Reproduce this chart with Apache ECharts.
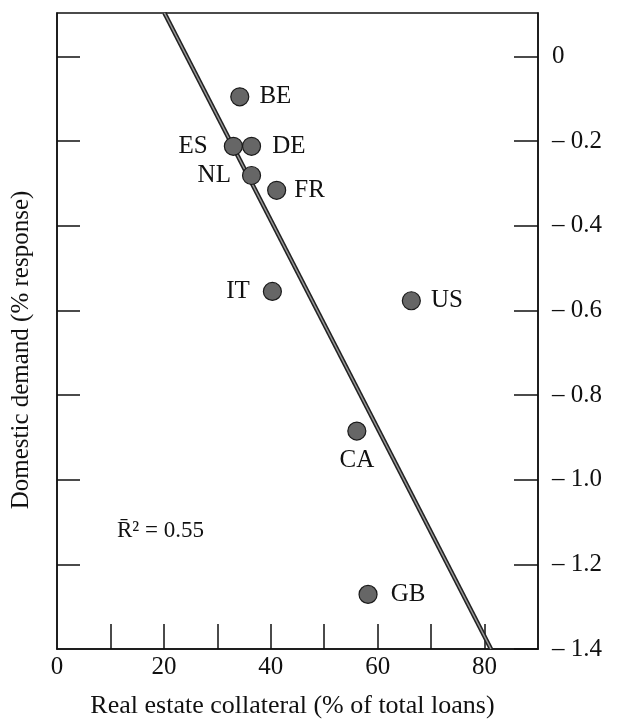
<!DOCTYPE html>
<html>
<head>
<meta charset="utf-8">
<script src="https://cdn.jsdelivr.net/npm/echarts@6/dist/echarts.min.js"></script>
<style>
html,body{margin:0;padding:0;background:#fff;}
#c{width:621px;height:724px;}
</style>
</head>
<body>
<div id="c"></div>
<script>
// ---- data ----
var countries = ['BE', 'ES', 'DE', 'NL', 'FR', 'IT', 'US', 'CA', 'GB'];
var collateral = [34.2, 33.0, 36.4, 36.4, 41.1, 40.3, 66.3, 56.1, 58.2];
var demand = [-0.095, -0.212, -0.212, -0.281, -0.316, -0.555, -0.577, -0.885, -1.271];
var fitX = [20.1, 81.2];
var fitY = [0.103, -1.40];
var xTickLabels = [0, 20, 40, 60, 80];
var yTickLabels = [0, -0.2, -0.4, -0.6, -0.8, -1.0, -1.2, -1.4];
var rSquared = '0.55';

// ---- styles ----
var FONT = "'Liberation Serif', 'DejaVu Serif', serif";
var FS = 25;
var labelPlacement = {
  BE: {position: 'right', distance: 10},
  ES: {position: 'left', distance: 16},
  DE: {position: 'right', distance: 11},
  NL: {position: 'left', distance: 11},
  FR: {position: 'right', distance: 8},
  IT: {position: 'left', distance: 13},
  US: {position: 'right', distance: 10},
  CA: {position: 'bottom', distance: 7},
  GB: {position: 'right', distance: 13}
};

var points = countries.map(function (c, i) {
  var lp = labelPlacement[c];
  return {
    name: c,
    value: [collateral[i], demand[i]],
    label: {position: lp.position, distance: lp.distance}
  };
});
var fitData = fitX.map(function (x, i) { return [x, fitY[i]]; });

function fmtY(v) {
  var r = Math.round(v * 10) / 10;
  if (Math.abs(r) < 1e-9) return '0';
  return '\u2013 ' + Math.abs(r).toFixed(1);
}

var chart = echarts.init(document.getElementById('c'), null, {renderer: 'canvas'});
chart.setOption({
  backgroundColor: '#fff',
  animation: false,
  textStyle: {fontFamily: FONT, color: '#111'},
  grid: {
    left: 57, right: 83, top: 13, bottom: 74,
    show: true, borderColor: '#111', borderWidth: 1.5, backgroundColor: 'transparent'
  },
  xAxis: {
    type: 'value', min: 0, max: 90, interval: 10,
    name: 'Real estate collateral (% of total loans)',
    nameLocation: 'middle', nameGap: 44,
    nameTextStyle: {fontFamily: FONT, fontSize: 26, color: '#111', padding: [0, 10, 0, 0]},
    axisLine: {show: true, onZero: false, lineStyle: {color: '#111', width: 1.5}},
    axisTick: {show: true, inside: true, length: 25, lineStyle: {color: '#111', width: 1.5},
      customValues: [10, 20, 30, 40, 50, 60, 70, 80]},
    axisLabel: {show: true, margin: 6, fontFamily: FONT, fontSize: FS, color: '#111',
      customValues: xTickLabels, formatter: function (v) { return String(v); }},
    splitLine: {show: false}
  },
  yAxis: [{
    type: 'value', position: 'right', min: -1.4, max: 0.103,
    axisLine: {show: true, onZero: false, lineStyle: {color: '#111', width: 1.5}},
    axisTick: {show: true, inside: true, length: 24, lineStyle: {color: '#111', width: 1.5},
      customValues: yTickLabels},
    axisLabel: {show: true, margin: 14, fontFamily: FONT, fontSize: FS, color: '#111',
      customValues: yTickLabels, formatter: fmtY},
    splitLine: {show: false}
  }, {
    type: 'value', position: 'left', min: -1.4, max: 0.103,
    axisLine: {show: true, onZero: false, lineStyle: {color: '#111', width: 1.5}},
    axisTick: {show: true, inside: true, length: 23, lineStyle: {color: '#111', width: 1.5},
      customValues: yTickLabels.slice(0, 7)},
    axisLabel: {show: false},
    splitLine: {show: false}
  }],
  series: [{
    type: 'line', data: fitData, yAxisIndex: 0, symbol: 'none', silent: true,
    lineStyle: {color: '#222', width: 4.5}, z: 2
  }, {
    type: 'line', data: fitData, yAxisIndex: 0, symbol: 'none', silent: true,
    lineStyle: {color: '#9a9a9a', width: 1.5}, z: 3
  }, {
    type: 'scatter', data: points, yAxisIndex: 0, symbol: 'circle', symbolSize: 18,
    itemStyle: {color: '#666666', borderColor: '#1a1a1a', borderWidth: 1.2, opacity: 1},
    label: {show: true, formatter: '{b}', fontFamily: FONT, fontSize: FS, color: '#111'},
    z: 5
  }],
  graphic: [{
    type: 'text', rotation: Math.PI / 2, x: 21, y: 350,
    style: {text: 'Domestic demand (% response)', font: FS + 'px ' + FONT, fill: '#111',
      textAlign: 'center', textVerticalAlign: 'middle'}
  }, {
    type: 'text', x: 117, y: 531,
    style: {text: 'R\u0304\u00B2 = ' + rSquared, font: '23px ' + FONT, fill: '#111',
      textAlign: 'left', textVerticalAlign: 'middle'}
  }]
});
</script>
</body>
</html>
